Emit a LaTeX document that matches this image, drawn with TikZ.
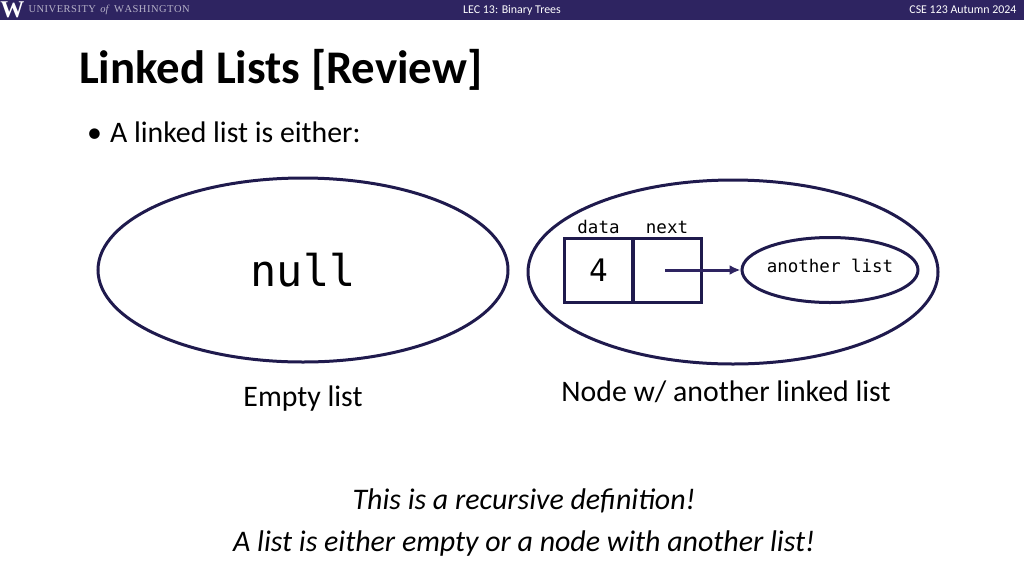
\documentclass[tikz,border=0pt]{standalone}
\usepackage{fontspec}
\setmainfont{Carlito}
\setmonofont{DejaVu Sans Mono}
\newfontfamily\crestfont{Liberation Serif}
\usetikzlibrary{positioning,shapes.geometric,arrows.meta}
\definecolor{uwpurple}{HTML}{2E2461}
\definecolor{inkpurple}{HTML}{1F1A4D}
\tikzset{blob/.style={draw=inkpurple,ellipse,line width=3pt,inner sep=0pt},
cell/.style={draw=inkpurple,line width=3pt,minimum width=69pt,minimum height=64pt,inner sep=0pt},
caption/.style={font=\fontsize{29.8}{29.8}\selectfont,text=black},
field/.style={font=\ttfamily\fontsize{17.5}{17.5}\selectfont,text=black},
remark/.style={font=\itshape\fontsize{29.9}{29.9}\selectfont,text=black},
topbar/.style={font=\fontsize{11.9}{11.9}\selectfont,text=white}}

\begin{document}
\begin{tikzpicture}[x=1pt,y=-1pt]
\useasboundingbox (0,0) rectangle (1024,576);
\fill[uwpurple] (0,0) rectangle (1024,20);
\node[font=\crestfont\bfseries\fontsize{24}{24}\selectfont,text=white,inner sep=0pt] (logo) at (12.5,10) {W};
\node[font=\crestfont\fontsize{10.5}{10.5}\selectfont,text=white!65!uwpurple,anchor=west] (uni) at (25,10) {U\kern.5pt N\kern.5pt I\kern.5pt V\kern.5pt E\kern.5pt R\kern.5pt S\kern.5pt I\kern.5pt T\kern.5pt Y \,\textit{of}\, W\kern.5pt A\kern.5pt S\kern.5pt H\kern.5pt I\kern.5pt N\kern.5pt G\kern.5pt T\kern.5pt O\kern.5pt N};
\node[topbar] (lec) at (512,10) {LEC 13: Binary Trees};
\node[topbar,anchor=east] (course) at (1020,10) {CSE 123 Autumn 2024};
\node[font=\bfseries\fontsize{46.8}{46.8}\selectfont,anchor=west,inner sep=0pt] (title) at (79,70) {Linked Lists [Review]};
\node[font=\fontsize{29.8}{29.8}\selectfont,anchor=west,inner sep=0pt] (bullet) at (87,132) {•\hspace{8pt}A linked list is either:};
% empty list
\node[blob,minimum width=410pt,minimum height=184pt] (empty) at (303,270) {};
\node[font=\ttfamily\fontsize{43.6}{43.6}\selectfont] (null) at (303,270) {null};
\node[caption] (emptylabel) at (303,399) {Empty list};
% node with a list
\node[blob,minimum width=410pt,minimum height=184pt] (full) at (733,272) {};
\node[cell] (datacell) at (598.5,270) {};
\node[cell,right=-3.5pt of datacell] (nextcell) {};
\node[font=\ttfamily\fontsize{31}{31}\selectfont] (four) at (datacell) {4};
\node[field,above=-0.5pt of datacell] (datalabel) {data};
\node[field,above=-0.5pt of nextcell] (nextlabel) {next};
\node[blob,minimum width=176pt,minimum height=65pt] (rest) at (830,270) {};
\node[field] (restlabel) at (830,266) {another list};
\coordinate[left=2pt of nextcell.center] (start);
\draw[-{Latex[length=11pt,width=10pt]},uwpurple,line width=3pt] (start) -- (rest.west);
\node[caption] (fulllabel) at (726,392) {Node w/ another linked list};
% closing remark
\node[remark] (rec) at (524,501) {This is a recursive definition!};
\node[remark] (either) at (524,544) {A list is either empty or a node with another list!};
\end{tikzpicture}
\end{document}
